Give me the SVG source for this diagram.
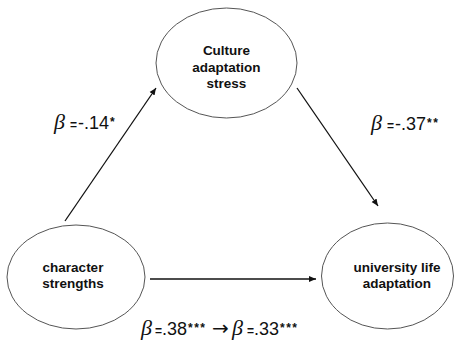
<svg xmlns="http://www.w3.org/2000/svg" width="455" height="341" viewBox="0 0 455 341">
<defs>
<marker id="ah" markerWidth="8" markerHeight="8" refX="7" refY="4" orient="auto" markerUnits="userSpaceOnUse">
<path d="M0,1 L7,4 L0,7 Z" fill="#111"/>
</marker>
<style>
.node ellipse{fill:#fff;stroke:#555;stroke-width:1}
.node text{font-family:"Liberation Sans",Arial,sans-serif;font-weight:bold;font-size:13.5px;fill:#111;text-anchor:middle}
.edge{stroke:#111;stroke-width:1.3;fill:none;marker-end:url(#ah)}
.lbl text{font-family:"Liberation Sans",Arial,sans-serif;fill:#111;font-size:18px}
.beta{font-family:"Liberation Serif","Times New Roman",serif;font-style:italic;font-size:22px}
.eq{font-size:12px;font-weight:bold}
.sup{font-size:12px;font-weight:bold;letter-spacing:1.5px}
.arr{font-family:"DejaVu Sans",sans-serif;font-size:20px}
</style>
</defs>
<rect width="455" height="341" fill="#fff"/>
<g id="connectors">
<line class="edge" x1="65" y1="221" x2="156" y2="88"/>
<line class="edge" x1="297" y1="88" x2="378" y2="206"/>
<line class="edge" x1="150" y1="279" x2="316" y2="279"/>
</g>
<g id="node-culture" class="node">
<ellipse cx="226.5" cy="63" rx="70.5" ry="55"/>
<text x="226.5" y="55">Culture</text>
<text x="226.5" y="72">adaptation</text>
<text x="226.5" y="88">stress</text>
</g>
<g id="node-character" class="node">
<ellipse cx="76" cy="277" rx="69" ry="52"/>
<text x="73" y="272">character</text>
<text x="73" y="288">strengths</text>
</g>
<g id="node-university" class="node">
<ellipse cx="387.5" cy="276" rx="66" ry="53"/>
<text x="397" y="272">university life</text>
<text x="397" y="288">adaptation</text>
</g>
<g id="labels" class="lbl">
<text y="129"><tspan class="beta" x="54">β</tspan><tspan class="eq" x="70">=</tspan><tspan x="78">-.14</tspan><tspan class="sup" x="110" dy="-3">*</tspan></text>
<text y="130"><tspan class="beta" x="371">β</tspan><tspan class="eq" x="387">=</tspan><tspan x="395">-.37</tspan><tspan class="sup" x="427" dy="-3">**</tspan></text>
<text y="335"><tspan class="beta" x="141">β</tspan><tspan class="eq" x="155">=</tspan><tspan x="162">.38</tspan><tspan class="sup" x="188" dy="-3">***</tspan><tspan class="arr" x="212" dy="3">→</tspan><tspan class="beta" x="232">β</tspan><tspan class="eq" x="247">=</tspan><tspan x="254">.33</tspan><tspan class="sup" x="280" dy="-3">***</tspan></text>
</g>
</svg>
